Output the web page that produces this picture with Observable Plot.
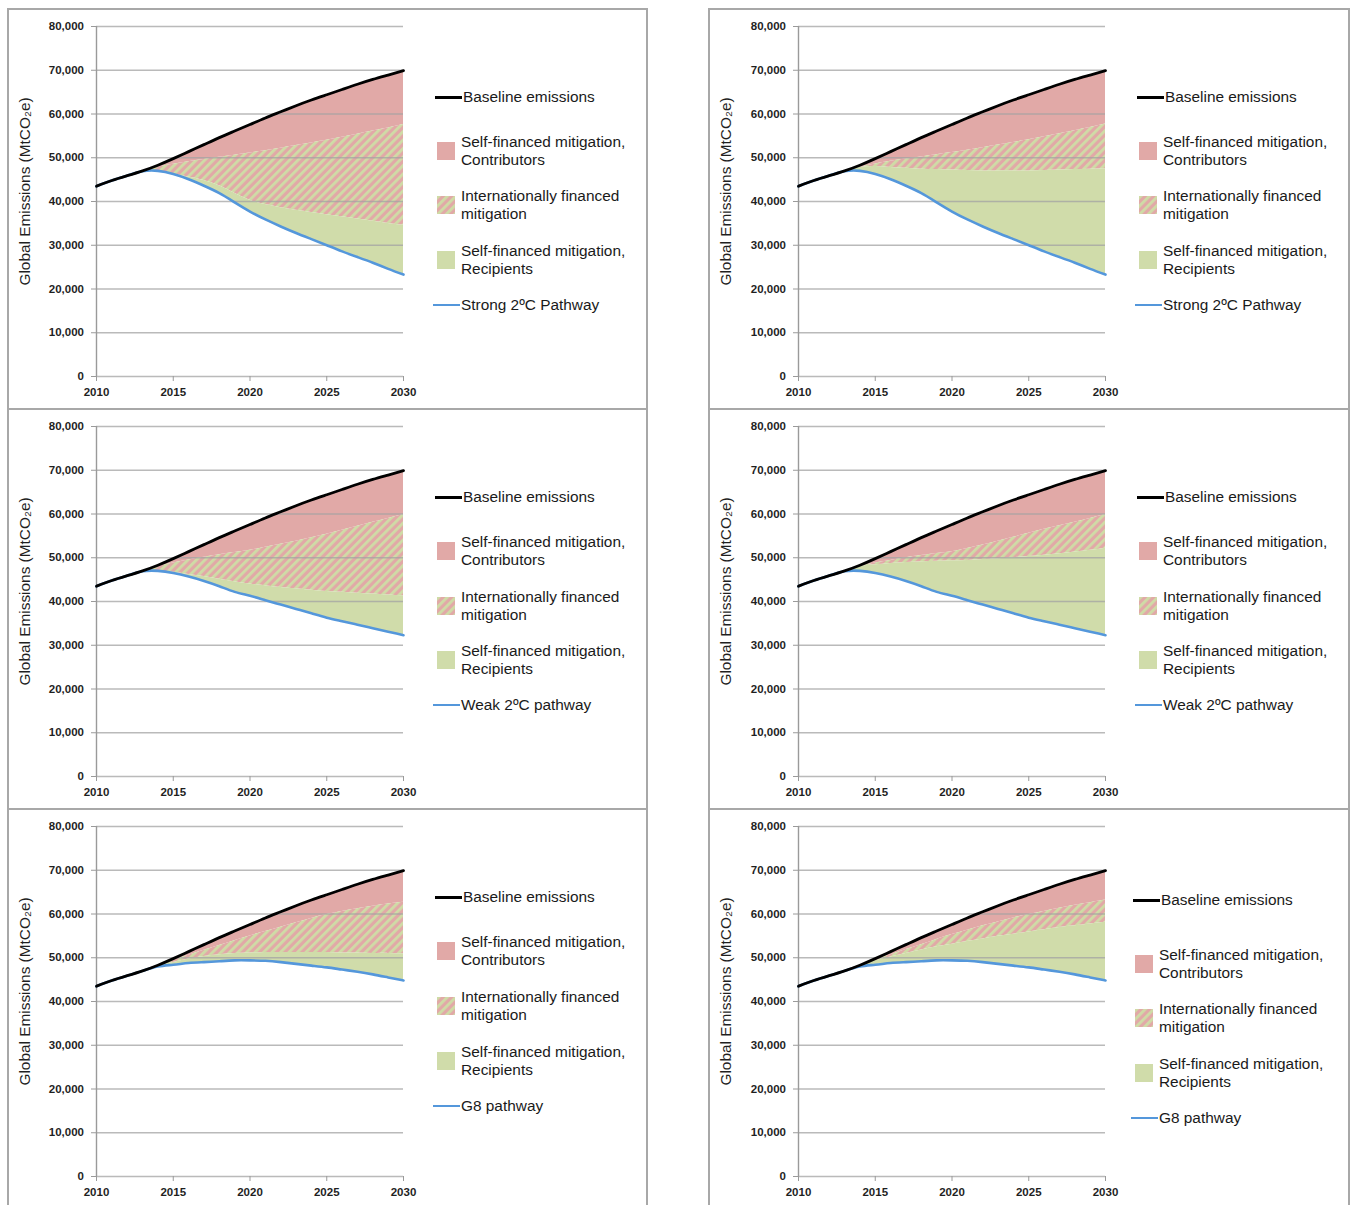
<!DOCTYPE html>
<html>
<head>
<meta charset="utf-8">
<script src="https://cdn.jsdelivr.net/npm/d3@7"></script>
<script src="https://cdn.jsdelivr.net/npm/@observablehq/plot@0.6"></script>
<style>
  html, body { margin: 0; padding: 0; background: #fff; }
  #fig { position: relative; width: 1351px; height: 1205px; overflow: hidden; background: #fff;
         font-family: "Liberation Sans", Arial, Helvetica, sans-serif; color: #1a1a1a; }
  .box { position: absolute; box-sizing: border-box; border-top: 2px solid #a8a8a8;
         border-left: 2px solid #a8a8a8; border-right: 2px solid #a8a8a8; }
  .chart { position: absolute; }
  .lg { position: absolute; }
  .lgtext { position: absolute; font-size: 15.4px; line-height: 18px; white-space: pre; color: #1a1a1a; }
</style>
</head>
<body>
<svg width="0" height="0" style="position:absolute">
  <defs>
    <pattern id="hatch" patternUnits="userSpaceOnUse" width="6" height="6" patternTransform="rotate(45)">
      <rect width="6" height="6" fill="#e1a9a7"></rect>
      <rect width="2.8" height="6" fill="#cfdca6"></rect>
    </pattern>
  </defs>
</svg>
<div id="fig"></div>
<script>
// ---------- data ----------
const years = [2010, 2011, 2012, 2013, 2014, 2015, 2016, 2017, 2018, 2019, 2020,
               2021, 2022, 2023, 2024, 2025, 2026, 2027, 2028, 2029, 2030];

const baseline      = [43500, 44800, 45900, 47000, 48300, 49800, 51400, 53000, 54600, 56100, 57600,
                       59100, 60500, 61900, 63200, 64400, 65600, 66800, 67900, 68900, 69900];
const strongPathway = [43500, 44800, 45900, 46900, 47000, 46300, 45100, 43600, 41900, 39800, 37700,
                       35900, 34300, 32800, 31400, 30000, 28600, 27300, 26000, 24600, 23300];
const weakPathway   = [43500, 44800, 45900, 46900, 47000, 46500, 45700, 44700, 43500, 42200, 41300,
                       40300, 39300, 38300, 37300, 36300, 35500, 34700, 33900, 33100, 32300];
const g8Pathway     = [43500, 44800, 45900, 47000, 48000, 48400, 48800, 49000, 49200, 49400, 49400,
                       49300, 49000, 48600, 48200, 47800, 47300, 46800, 46200, 45500, 44800];

// upper / lower edges of the internationally financed (hatched) band, per panel
const strongTopA    = [43500, 44800, 45900, 47000, 47900, 48500, 49100, 49600, 50100, 50600, 51100,
                       51600, 52200, 52800, 53400, 54000, 54700, 55400, 56100, 56800, 57600];
const strongBottomA = [43500, 44800, 45900, 47000, 47000, 46300, 45600, 44800, 43600, 41900, 40300,
                       39300, 38600, 38000, 37500, 37000, 36500, 36000, 35500, 35000, 34600];
const strongTopB    = [43500, 44800, 45900, 47000, 47900, 48600, 49200, 49700, 50200, 50700, 51200,
                       51700, 52300, 52900, 53500, 54100, 54800, 55500, 56200, 56900, 57700];
const strongBottomB = [43500, 44800, 45900, 47000, 47800, 48000, 47800, 47600, 47400, 47300, 47200,
                       47100, 47000, 47000, 47000, 47000, 47100, 47200, 47300, 47400, 47500];
const weakTopA      = [43500, 44800, 45900, 47000, 48000, 48800, 49500, 50100, 50700, 51200, 51700,
                       52400, 53100, 53800, 54600, 55400, 56300, 57200, 58100, 59000, 59900];
const weakBottomA   = [43500, 44800, 45900, 47000, 47000, 46700, 46200, 45700, 45100, 44500, 44000,
                       43600, 43200, 42900, 42600, 42300, 42100, 41900, 41700, 41500, 41300];
const weakTopB      = [43500, 44800, 45900, 47000, 48000, 48800, 49400, 50000, 50500, 51000, 51400,
                       52100, 52900, 53800, 54700, 55600, 56500, 57300, 58100, 59000, 59900];
const weakBottomB   = [43500, 44800, 45900, 47000, 48000, 48400, 48700, 48900, 49100, 49200, 49300,
                       49400, 49600, 49800, 50000, 50300, 50600, 50900, 51300, 51700, 52200];
const g8TopA        = [43500, 44800, 45900, 47000, 48300, 49500, 50600, 51700, 52800, 53900, 55000,
                       56000, 57000, 58000, 59000, 59900, 60600, 61200, 61800, 62300, 62700];
const g8BottomA     = [43500, 44800, 45900, 47000, 48100, 48900, 49700, 50300, 50700, 51000, 51100,
                       51200, 51200, 51200, 51200, 51200, 51100, 51100, 51000, 51000, 50900];
const g8TopB        = [43500, 44800, 45900, 47000, 48300, 49600, 50700, 51900, 53000, 54200, 55300,
                       56300, 57300, 58200, 59100, 59900, 60600, 61300, 62000, 62600, 63200];
const g8BottomB     = [43500, 44800, 45900, 47000, 48200, 49300, 50200, 51000, 51800, 52500, 53100,
                       53700, 54300, 54900, 55400, 55900, 56400, 56900, 57300, 57700, 58100];

const xTicks = [2010, 2015, 2020, 2025, 2030];
const yTicks = [0, 10000, 20000, 30000, 40000, 50000, 60000, 70000, 80000];
const yLabel = "Global Emissions (MtCO₂e)";
const legendLabels = ["Baseline emissions",
                      "Self-financed mitigation,\nContributors",
                      "Internationally financed\nmitigation",
                      "Self-financed mitigation,\nRecipients"];
const pathwayLabels = ["Strong 2ºC Pathway", "Weak 2ºC pathway", "G8 pathway"];

// ---------- styles ----------
const C = { pink: "#e1a9a7", green: "#d0dcaa", grid: "#a3a3a3", axis: "#9a9a9a",
            black: "#000000", blue: "#5497db", text: "#1f1f1f" };

const panels = [
  { col: 0, row: 0, path: strongPathway, name: pathwayLabels[0], top: strongTopA, bottom: strongBottomA, gaps: [45, 99, 154, 208], lx: 428, ly: 89 },
  { col: 1, row: 0, path: strongPathway, name: pathwayLabels[0], top: strongTopB, bottom: strongBottomB, gaps: [45, 99, 154, 208], lx: 429, ly: 89 },
  { col: 0, row: 1, path: weakPathway,   name: pathwayLabels[1], top: weakTopA,   bottom: weakBottomA,   gaps: [45, 100, 154, 208], lx: 428, ly: 89 },
  { col: 1, row: 1, path: weakPathway,   name: pathwayLabels[1], top: weakTopB,   bottom: weakBottomB,   gaps: [45, 100, 154, 208], lx: 429, ly: 89 },
  { col: 0, row: 2, path: g8Pathway,     name: pathwayLabels[2], top: g8TopA,     bottom: g8BottomA,     gaps: [45, 100, 155, 209], lx: 428, ly: 89 },
  { col: 1, row: 2, path: g8Pathway,     name: pathwayLabels[2], top: g8TopB,     bottom: g8BottomB,     gaps: [55, 109, 164, 218], lx: 425, ly: 92 }
];

const fig = document.getElementById("fig");
const colLeft = [7, 708];
const colWidth = [641, 642];
const curve = "natural";

function el(tag, css, parent) {
  const e = document.createElement(tag);
  Object.assign(e.style, css);
  (parent || fig).appendChild(e);
  return e;
}

for (const p of panels) {
  const left = colLeft[p.col];
  const top = 8 + 400 * p.row;
  el("div", { left: left + "px", top: top + "px", width: colWidth[p.col] + "px", height: "400px" }).className = "box";

  const rows = years.map((year, i) => ({
    year, baseline: baseline[i], path: p.path[i], top: p.top[i], bottom: p.bottom[i]
  }));
  const split = rows.filter(d => d.year >= 2013);
  const ml = p.col === 0 ? 89 : 90;

  const chart = Plot.plot({
    width: 412, height: 398,
    marginLeft: ml, marginRight: 412 - ml - 307, marginTop: 18, marginBottom: 30,
    x: { domain: [2010, 2030] },
    y: { domain: [0, 80000] },
    style: { background: "transparent", fontFamily: "'Liberation Sans', Arial, sans-serif", color: C.text, overflow: "visible" },
    marks: [
      Plot.areaY(split, { x: "year", y1: "top", y2: "baseline", fill: C.pink, curve }),
      Plot.areaY(split, { x: "year", y1: "bottom", y2: "top", fill: "url(#hatch)", curve }),
      Plot.areaY(split, { x: "year", y1: "path", y2: "bottom", fill: C.green, curve }),
      Plot.gridY(yTicks, { stroke: C.grid, strokeOpacity: 0.75, strokeWidth: 1.4 }),
      Plot.ruleX([2010], { y1: 0, y2: 80000, stroke: C.axis, strokeWidth: 1.4 }),
      Plot.axisY(yTicks, { tickSize: 5, tickPadding: 7.5, tickFormat: d3.format(","), label: null,
                           stroke: C.axis, fontSize: 11.5, fontWeight: "bold" }),
      Plot.text([yLabel], { frameAnchor: "left", rotate: -90, dx: 18 - ml, dy: -10,
                            textAnchor: "middle", lineAnchor: "middle", fontSize: 15.4, fill: C.text }),
      Plot.axisX(xTicks, { tickSize: 5, tickPadding: 6, tickFormat: d3.format("d"), label: null,
                           stroke: C.axis, fontSize: 11.5, fontWeight: "bold" }),
      Plot.lineY(rows, { x: "year", y: "path", stroke: C.blue, strokeWidth: 2.6, curve }),
      Plot.lineY(rows, { x: "year", y: "baseline", stroke: C.black, strokeWidth: 2.8, curve })
    ]
  });
  const holder = el("div", { left: left + "px", top: top + "px" });
  holder.className = "chart";
  holder.appendChild(chart);

  // legend
  const x0 = left + p.lx, y0 = top + p.ly;
  el("div", { left: x0 + "px", top: (y0 - 1.5) + "px", width: "27px", height: "3px", background: C.black }).className = "lg";
  let t = el("div", { left: (x0 + 28) + "px", top: (y0 - 9) + "px" }); t.className = "lgtext"; t.textContent = legendLabels[0];

  const sw = [C.pink, "hatch", C.green];
  for (let k = 0; k < 3; k++) {
    const c = y0 + p.gaps[k];
    if (sw[k] === "hatch") {
      const s = el("div", { left: (x0 + 2) + "px", top: c + "px", width: "18px", height: "18px" });
      s.className = "lg";
      s.innerHTML = '<svg width="18" height="18"><rect width="18" height="18" fill="url(#hatch)"></rect></svg>';
    } else {
      el("div", { left: (x0 + 2) + "px", top: c + "px", width: "18px", height: "18px", background: sw[k] }).className = "lg";
    }
    t = el("div", { left: (x0 + 26) + "px", top: (c - 9) + "px" }); t.className = "lgtext"; t.textContent = legendLabels[k + 1];
  }
  const cb = y0 + p.gaps[3];
  el("div", { left: (x0 - 2) + "px", top: (cb - 1.25) + "px", width: "27px", height: "2.5px", background: C.blue }).className = "lg";
  t = el("div", { left: (x0 + 26) + "px", top: (cb - 9) + "px" }); t.className = "lgtext"; t.textContent = p.name;
}
// small break in the top border of the upper-right frame
el("div", { left: "1106px", top: "6px", width: "22px", height: "5px", background: "#fff" });
</script>
</body>
</html>
